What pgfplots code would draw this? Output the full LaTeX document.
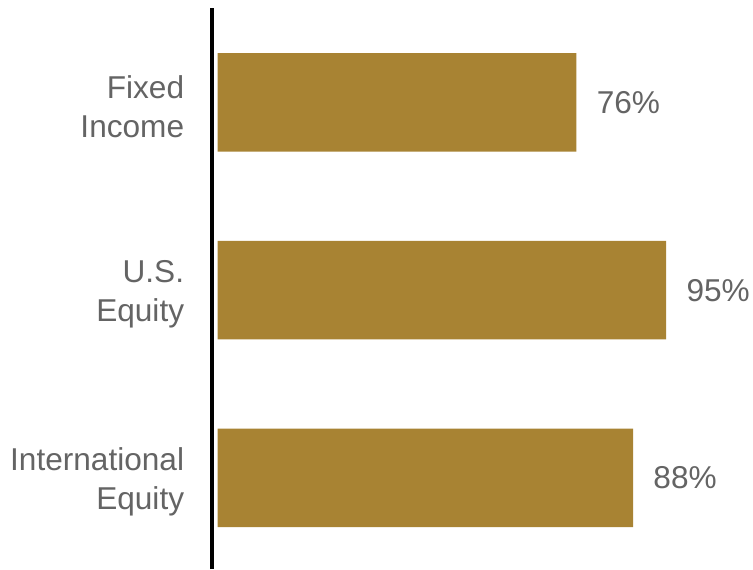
\documentclass[border=0pt]{standalone}
\usepackage{pgfplots}
\pgfplotsset{compat=1.18}
\usepackage{fontspec}
\setmainfont{Liberation Sans}
\definecolor{bargold}{HTML}{A88333}
\definecolor{labelgray}{HTML}{646464}

\begin{document}
\begin{tikzpicture}
\useasboundingbox (0,0) rectangle (376.5pt,284.5pt);
\begin{axis}[
  at={(105.75pt,0pt)}, anchor=south west,
  scale only axis,
  width=270.75pt, height=280.5pt,
  xbar, bar width=49.25pt,
  xmin=-1.3, xmax=113.4,
  ymin=0.515, ymax=3.503,
  axis lines*=left,
  hide x axis,
  y axis line style={-, black, line width=2pt},
  ytick={1,2,3},
  yticklabels={{International\\Equity},{U.S.\\Equity},{Fixed\\Income}},
  major tick length=0pt,
  yticklabel style={align=right, inner sep=0pt, xshift=-13.5pt, yshift=-2pt,
    font=\fontsize{15.8}{19.5}\selectfont, text=labelgray},
  nodes near coords={\pgfmathprintnumber[assume math mode=true]{\pgfplotspointmeta}\%},
  every node near coord/.style={anchor=west, inner sep=0pt, xshift=10pt,
    font=\fontsize{15.8}{19.5}\selectfont, text=labelgray},
  clip=false,
]
\addplot[fill=bargold, draw=none] coordinates {
  (88,1) (95,2) (76,3)
};
\end{axis}
\end{tikzpicture}
\end{document}
